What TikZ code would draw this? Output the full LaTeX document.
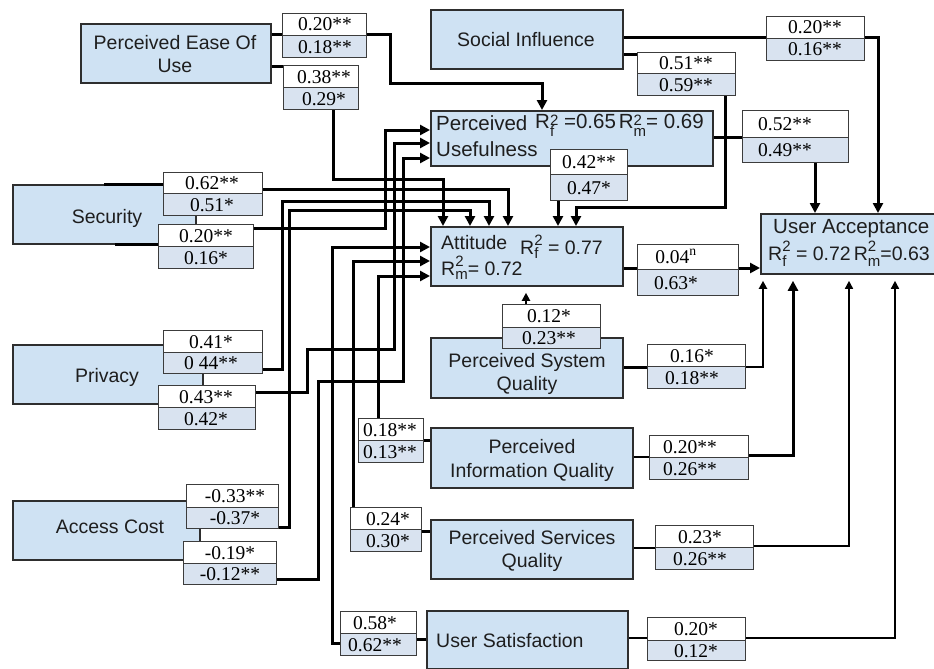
\documentclass[tikz,border=0pt]{standalone}
\usepackage{fontspec}
\setmainfont{Liberation Serif}
\newfontfamily\sansf{Liberation Sans}
\usetikzlibrary{arrows.meta}
\definecolor{boxfill}{HTML}{CFE2F3}
\definecolor{labfill}{HTML}{D9E3F0}
\definecolor{bordc}{HTML}{2E2E2E}
\definecolor{labline}{HTML}{3C3C3C}
\definecolor{txtc}{HTML}{1E1E1E}
\newcommand\bfnt{\sansf\fontsize{19.5}{23}\selectfont}
\newcommand\bfntL{\sansf\fontsize{20.5}{23}\selectfont}
\newcommand\lfnt{\fontsize{19.5}{22}\selectfont}
\newcommand\sfnt{\sansf\fontsize{15}{15}\selectfont}
\newcommand\RR[3]{R\setbox0=\hbox{\sfnt 2}\setbox2=\hbox{\sfnt #1}\ifdim\wd0>\wd2 \wd2=\wd0\fi\rlap{\raisebox{#2}{\box0}}\raisebox{-#3}{\box2}}
\newcommand\bx[5]{\node[box, minimum width={#4-#2}, minimum height={#5-#3}] (#1) at (#2,#3) {};}
\newcommand\lab[9]{%
  \fill[white] (#2,#3) rectangle (#4,#6);
  \fill[labfill] (#2,#6) rectangle (#4,#5);
  \node[lbox, minimum width={#4-#2}, minimum height={#5-#3}] (#1) at (#2,#3) {};
  \draw[labline, line width=0.9pt] (#1.west |- 0,#6) -- (#1.east |- 0,#6);
  \node[ltxt] (#1a) at ({#9},{(#3+#6)/2+7}) {#7};
  \node[ltxt] (#1b) at ({#9},{(#6+#5)/2+7}) {#8};
}
\begin{document}
\begin{tikzpicture}[x=1pt,y=-1pt,
  box/.style={draw=bordc, line width=1.8pt, fill=boxfill, inner sep=0pt, anchor=north west},
  txt/.style={inner sep=0pt, text=txtc, font=\bfnt},
  ltxt/.style={inner sep=0pt, anchor=base, font=\lfnt, text=black},
  lbox/.style={draw=labline, line width=0.9pt, inner sep=0pt, anchor=north west},
  conn/.style={line width=3pt, draw=black},
  mconn/.style={line width=2pt, draw=black},
  tconn/.style={line width=1.5pt, draw=black},
  arr/.style={-{Triangle[length=10pt,width=10pt]}},
  sarr/.style={-{Triangle[length=8pt,width=8pt]}},
]
\clip (0,0) rectangle (934,669);
\fill[white] (0,0) rectangle (934,669);

% boxes
\bx{peou}{80}{23}{270}{82}
\bx{si}{430}{9}{622}{68}
\bx{pu}{430}{110}{712}{165}
\bx{sec}{12}{184}{195}{243}
\bx{pri}{12}{344}{202}{403}
\bx{ac}{12}{500}{199}{559}
\bx{att}{430}{226}{622}{285}
\bx{ua}{760}{213}{945}{273}
\bx{psq}{430}{337}{622}{397}
\bx{piq}{430}{427}{632}{487}
\bx{pseq}{430}{519}{632}{578}
\bx{us}{426}{610}{627}{668}

% label boxes
\lab{l1}{282}{13}{366}{57}{35}{0.20**}{0.18**}{325}
\lab{l2}{283}{65}{358}{109}{87}{0.38**}{0.29*}{324}
\lab{l3}{766}{16}{864}{60}{38}{0.20**}{0.16**}{815}
\lab{l4}{637}{52}{735}{95}{73}{0.51**}{0.59**}{686}
\lab{l5}{742}{110}{848}{162}{137}{0.52**}{0.49**}{785}
\lab{l6}{550}{149}{627}{200}{174}{0.42**}{0.47*}{589}
\lab{l7}{163}{172}{262}{215}{193}{0.62**}{0.51*}{212}
\lab{l8}{158}{224}{253}{268}{246}{0.20**}{0.16*}{206}
\lab{l9}{163}{330}{262}{373}{352}{0.41*}{0 44**}{211}
\lab{l10}{158}{385}{255}{429}{407}{0.43**}{0.42*}{206}
\lab{l11}{186}{484}{278}{528}{507}{-0.33**}{-0.37*}{235}
\lab{l12}{183}{541}{276}{584}{563}{-0.19*}{-0.12**}{230}
\lab{l13}{358}{418}{423}{462}{440}{0.18**}{0.13**}{390}
\lab{l14}{350}{507}{421}{551}{529}{0.24*}{0.30*}{388}
\lab{l15}{340}{611}{416}{655}{633}{0.58*}{0.62**}{375}
\lab{l16}{637}{244}{738}{295}{269}{0.04\textsuperscript{n}}{0.63*}{676}
\lab{l17}{502}{304}{600}{348}{327}{0.12*}{0.23**}{549}
\lab{l18}{647}{344}{745}{388}{366}{0.16*}{0.18**}{692}
\lab{l19}{649}{435}{748}{479}{457}{0.20**}{0.26**}{690}
\lab{l20}{655}{525}{753}{569}{547}{0.23*}{0.26**}{700}
\lab{l21}{647}{617}{745}{660}{640}{0.20*}{0.12*}{696}

% connectors
\draw[conn] (peou.east |- 0,35) -- (l1.west |- 0,35);
\draw[conn,arr] (l1.east |- 0,35) -| (390,83) -| (542,0 |- pu.north);
\draw[conn] (peou.east |- 0,67) -- (l2.west |- 0,67);
\draw[conn,arr] (333,0 |- l2.south) |- (443,179) -- (443,0 |- att.north);
\draw[conn] (si.east |- 0,38) -- (l3.west |- 0,38);
\draw[conn,arr] (l3.east |- 0,38) -| (878,0 |- ua.north);
\draw[conn] (si.east |- 0,55) -- (l4.west |- 0,55);
\draw[conn,arr] (725,0 |- l4.south) |- (576,207) -- (576,0 |- att.north);
\draw[conn] (pu.east |- 0,137) -- (l5.west |- 0,137);
\draw[conn,arr] (815,0 |- l5.south) -- (815,0 |- ua.north);
\draw[conn,arr] (558,0 |- l6.south) -- (558,0 |- att.north);
\draw[conn] (sec.north) -- (sec.north -| l7.west);
\draw[conn] ([xshift=11pt]sec.south) -- (sec.south -| l8.west);
\draw[conn,arr] (l7.east |- 0,189) -| (508,0 |- att.north);
\draw[conn,arr] (l8.east |- 0,228) -| (385,130) -- (pu.west |- 0,130);
\draw[conn,arr] (l9.east |- 0,369) -| (282,201) -| (489,0 |- att.north);
\draw[conn,arr] (l10.east |- 0,392) -| (307,349) -| (394,143) -- (pu.west |- 0,143);
\draw[conn,arr] (l11.east |- 0,527) -| (289,210) -| (470,0 |- att.north);
\draw[conn,arr] (l12.east |- 0,579) -| (318,381) -| (403,158) -- (pu.west |- 0,158);
\draw[conn] (us.west |- 0,639) -- (l15.east |- 0,639);
\draw[conn,arr] (l15.west |- 0,643) -| (332,247) -- (att.west |- 0,247);
\draw[conn] (pseq.west |- 0,531) -- (l14.east |- 0,531);
\draw[conn,arr] (353,0 |- l14.north) |- (att.west |- 0,261);
\draw[conn] (piq.west |- 0,440) -- (l13.east |- 0,440);
\draw[conn,arr] (378,0 |- l13.north) |- (att.west |- 0,276);
\draw[mconn,sarr,shorten >=6pt] (526,0 |- l17.north) -- (526,0 |- att.south);
\draw[conn] (att.east |- 0,268) -- (l16.west |- 0,268);
\draw[conn,arr] (l16.east |- 0,268) -- (ua.west |- 0,268);
\draw[conn] (psq.east |- 0,367) -- (l18.west |- 0,367);
\draw[mconn,sarr,shorten >=6pt] (l18.east |- 0,367) -| (763,0 |- ua.south);
\draw[tconn] (piq.east |- 0,457) -- (l19.west |- 0,457);
\draw[conn,arr,shorten >=6pt] (l19.east |- 0,455) -| (793,0 |- ua.south);
\draw[tconn] (pseq.east |- 0,548) -- (l20.west |- 0,548);
\draw[tconn,sarr,shorten >=6pt] (l20.east |- 0,546) -| (849,0 |- ua.south);
\draw[tconn] (us.east |- 0,638) -- (l21.west |- 0,638);
\draw[tconn,sarr,shorten >=6pt] (l21.east |- 0,638) -| (895,0 |- ua.south);

% redraw labels on top of connectors
\lab{l1}{282}{13}{366}{57}{35}{0.20**}{0.18**}{325}
\lab{l2}{283}{65}{358}{109}{87}{0.38**}{0.29*}{324}
\lab{l3}{766}{16}{864}{60}{38}{0.20**}{0.16**}{815}
\lab{l4}{637}{52}{735}{95}{73}{0.51**}{0.59**}{686}
\lab{l5}{742}{110}{848}{162}{137}{0.52**}{0.49**}{785}
\lab{l6}{550}{149}{627}{200}{174}{0.42**}{0.47*}{589}
\lab{l7}{163}{172}{262}{215}{193}{0.62**}{0.51*}{212}
\lab{l8}{158}{224}{253}{268}{246}{0.20**}{0.16*}{206}
\lab{l9}{163}{330}{262}{373}{352}{0.41*}{0 44**}{211}
\lab{l10}{158}{385}{255}{429}{407}{0.43**}{0.42*}{206}
\lab{l11}{186}{484}{278}{528}{507}{-0.33**}{-0.37*}{235}
\lab{l12}{183}{541}{276}{584}{563}{-0.19*}{-0.12**}{230}
\lab{l13}{358}{418}{423}{462}{440}{0.18**}{0.13**}{390}
\lab{l14}{350}{507}{421}{551}{529}{0.24*}{0.30*}{388}
\lab{l15}{340}{611}{416}{655}{633}{0.58*}{0.62**}{375}
\lab{l16}{637}{244}{738}{295}{269}{0.04\textsuperscript{n}}{0.63*}{676}
\lab{l17}{502}{304}{600}{348}{327}{0.12*}{0.23**}{549}
\lab{l18}{647}{344}{745}{388}{366}{0.16*}{0.18**}{692}
\lab{l19}{649}{435}{748}{479}{457}{0.20**}{0.26**}{690}
\lab{l20}{655}{525}{753}{569}{547}{0.23*}{0.26**}{700}
\lab{l21}{647}{617}{745}{660}{640}{0.20*}{0.12*}{696}

% box texts
\node[txt, anchor=base] (tpeou1) at (175,50) {Perceived Ease Of};
\node[txt, anchor=base] (tpeou2) at (175,72) {Use};
\node[txt, anchor=base] (tsi) at (526,47) {Social Influence};
\node[txt, anchor=base] (tsec) at (107,223) {Security};
\node[txt, anchor=base] (tpri) at (107,382) {Privacy};
\node[txt, anchor=base] (tac) at (110,533) {Access Cost};
\node[txt, anchor=base west, font=\bfntL] (tpu1) at (436,130) {Perceived};
\node[txt, anchor=base west, font=\bfntL] (tpu2) at (436,156) {Usefulness};
\node[txt, anchor=base west, font=\bfntL] (tpu3) at (535,128) {\RR{f}{3pt}{8pt} =0.65\hspace{3pt}\RR{m}{3pt}{8pt}= 0.69};
\node[txt, anchor=base west] (tatt1) at (441,249) {Attitude};
\node[txt, anchor=base west] (tatt2) at (520,254) {\RR{f}{9pt}{4pt} = 0.77};
\node[txt, anchor=base west] (tatt3) at (441,275) {\RR{m}{9pt}{4pt}= 0.72};
\node[txt, anchor=base west, font=\bfntL] (tua1) at (773,233) {User Acceptance};
\node[txt, anchor=base west] (tua2) at (768,260) {\RR{f}{9pt}{6pt} = 0.72\hspace{3pt}\RR{m}{9pt}{6pt}=0.63};
\node[txt, anchor=base] (tpsq1) at (527,367) {Perceived System};
\node[txt, anchor=base] (tpsq2) at (527,390) {Quality};
\node[txt, anchor=base] (tpiq1) at (532,453) {Perceived};
\node[txt, anchor=base] (tpiq2) at (532,477) {Information Quality};
\node[txt, anchor=base] (tpseq1) at (532,544) {Perceived Services};
\node[txt, anchor=base] (tpseq2) at (532,567) {Quality};
\node[txt, anchor=base west] (tus) at (436,647) {User Satisfaction};
\end{tikzpicture}
\end{document}
